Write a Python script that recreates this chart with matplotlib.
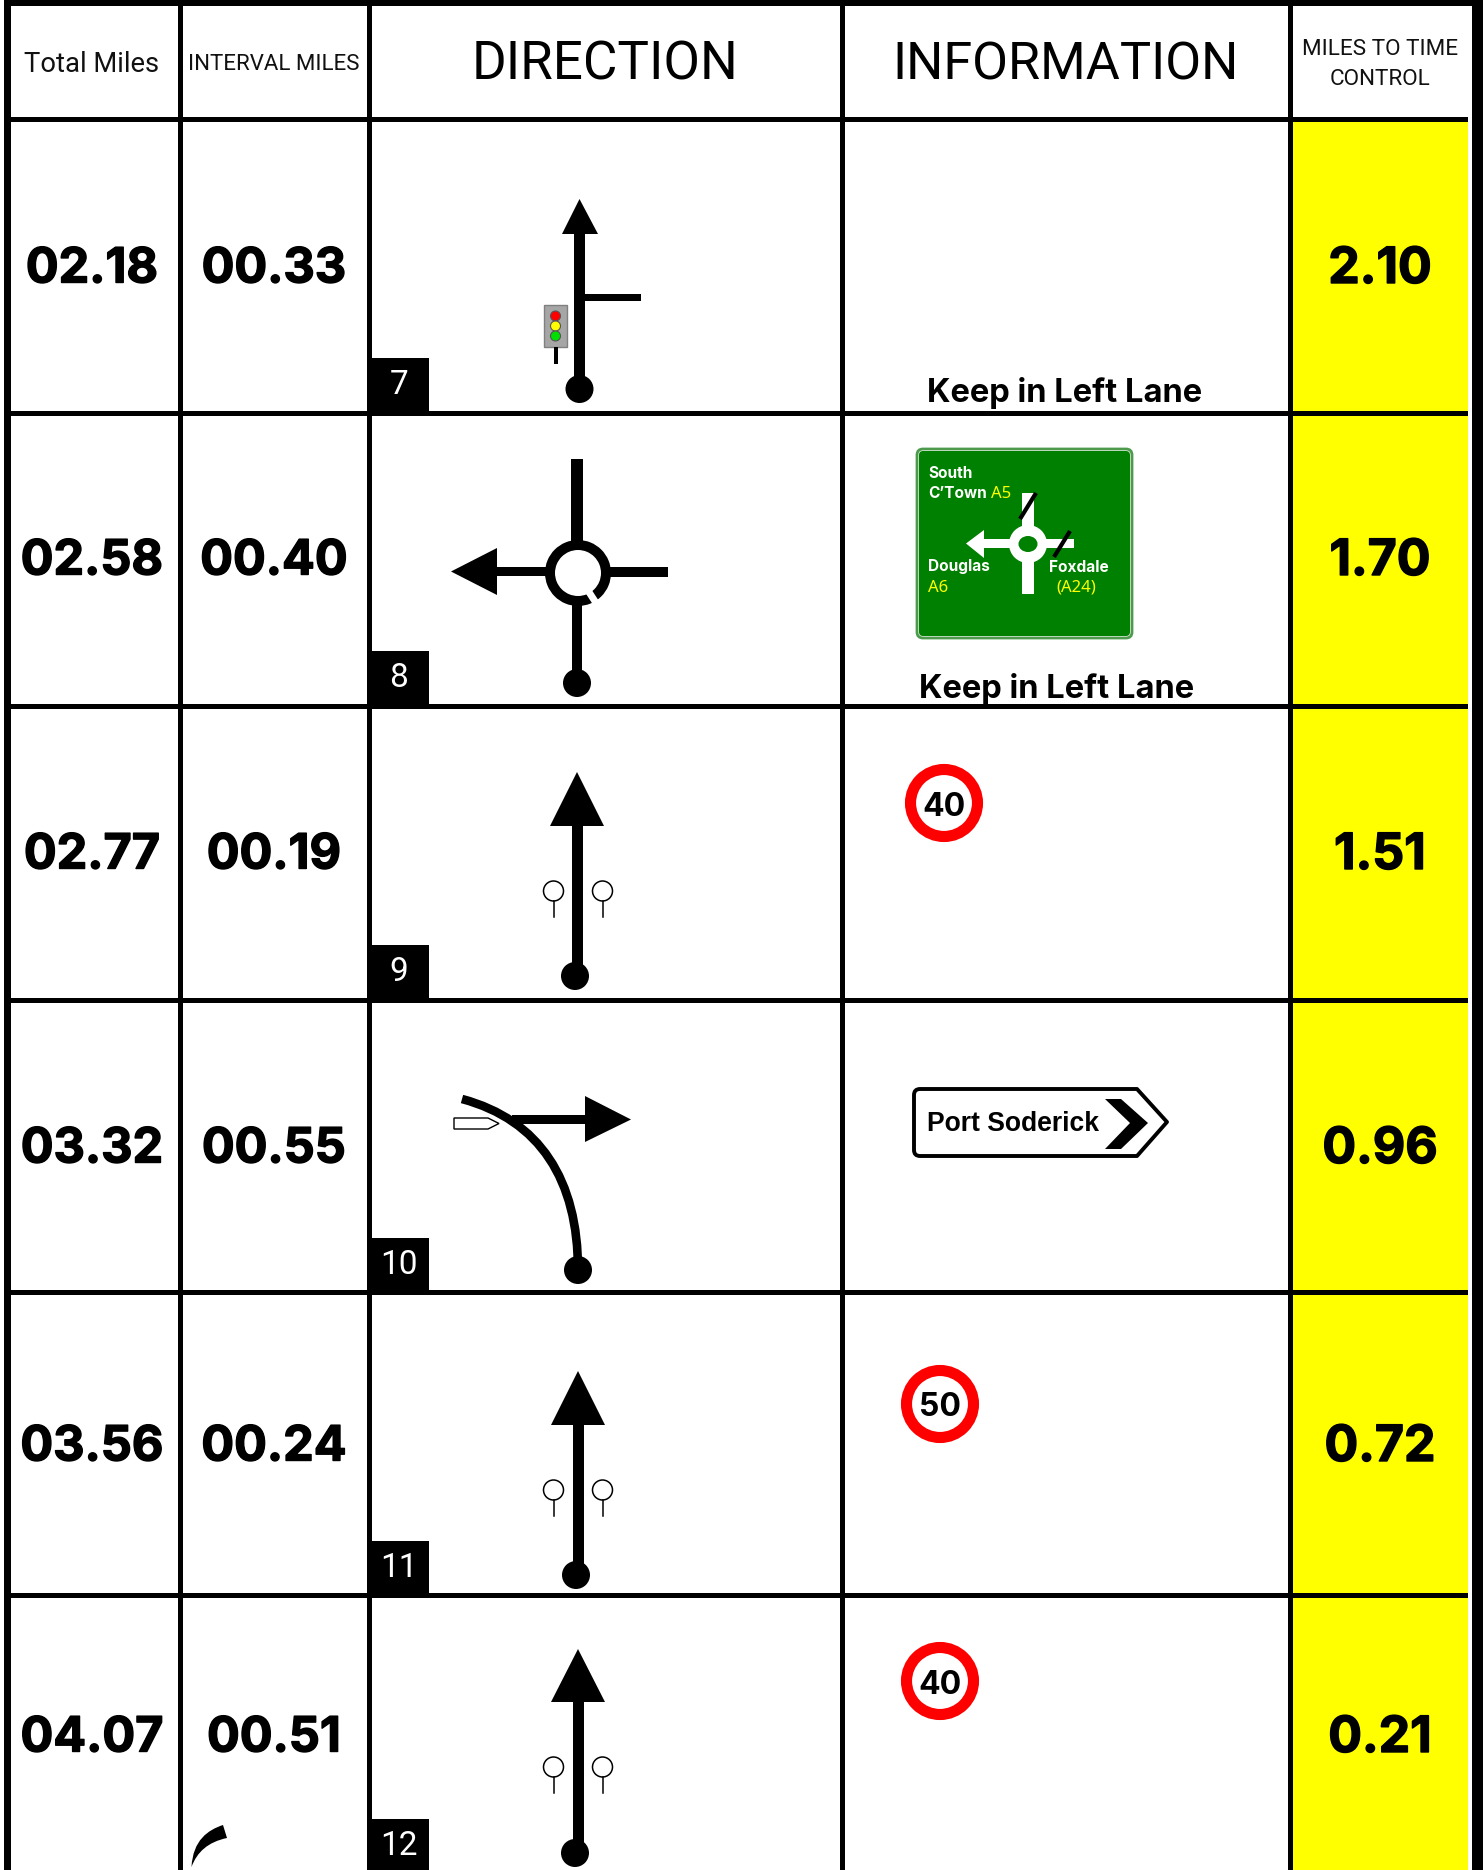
import matplotlib
matplotlib.use('Agg')
import matplotlib.pyplot as plt
import matplotlib.patheffects as pe
from matplotlib.patches import Rectangle, Circle, Ellipse, Polygon, PathPatch, FancyBboxPatch, Wedge
from matplotlib.path import Path

total_miles = ['02.18', '02.58', '02.77', '03.32', '03.56', '04.07']
interval_miles = ['00.33', '00.40', '00.19', '00.55', '00.24', '00.51']
to_control = ['2.10', '1.70', '1.51', '0.96', '0.72', '0.21']
step_no = ['7', '8', '9', '10', '11', '12']
headers = ['Total Miles', 'INTERVAL MILES', 'DIRECTION', 'INFORMATION']

row_y = [265, 557, 851, 1145, 1443, 1734]
row_lines = [119.5, 413.5, 706.5, 1000.5, 1292.5, 1595.5]
col_lines = [180.5, 369.5, 842.5, 1290.5]
box_top = [358, 651, 945, 1238, 1541, 1819]
box_bottom = [416, 709, 1003, 1295, 1598, 1870]
num_y = [382, 675, 969, 1262, 1565, 1843]

# straight-on arrows: row, shaft x, tip y, base y, half head, dot x, dot y, lollipop y
straight_rows = [(2, 577, 772, 826, 27, 575, 976, 891),
                 (4, 578, 1371, 1425, 27, 576, 1575, 1490),
                 (5, 578, 1649, 1702, 27, 575, 1853, 1767)]
speed_signs = [('40', 944, 803), ('50', 940, 1404), ('40', 940, 1681)]

FONT = 'Inter'
LIGHT = 'Roboto'
heavy = [pe.withStroke(linewidth=1.0, foreground='black')]

fig = plt.figure(figsize=(14.83, 18.70), dpi=100)
ax = fig.add_axes([0, 0, 1, 1])
ax.set_xlim(0, 1483)
ax.set_ylim(1870, 0)
ax.axis('off')


def rect(x0, y0, x1, y1, color='black', z=2):
    ax.add_patch(Rectangle((x0, y0), x1 - x0, y1 - y0, fc=color, ec='none', zorder=z))


def dot(x, y, r=14):
    ax.add_patch(Circle((x, y), r, fc='black', ec='none', zorder=4))


def lollipop(x, y):
    ax.add_patch(Circle((x, y), 10, fc='white', ec='black', lw=1.1, zorder=4))
    ax.plot([x, x], [y + 10, y + 26], color='black', lw=1.1, zorder=4)


# table
rect(1293, 122, 1467.5, 1870, '#ffff00', 1)
rect(4, 0, 10.5, 1870)
rect(4, 0, 1483, 5.5)
rect(1472, 0, 1483, 1870)
for x in col_lines:
    rect(x - 2.7, 0, x + 2.7, 1870)
for y in row_lines:
    rect(4, y - 2.7, 1467.5, y + 2.7)

# header text
ax.text(92, 65, headers[0], ha='center', va='center', family=LIGHT, fontsize=19.7, color='#111111')
ax.text(274, 64, headers[1], ha='center', va='center', family=LIGHT, fontsize=16, color='#111111')
ax.text(605, 65, headers[2], ha='center', va='center', family=LIGHT, fontsize=38.2, color='black')
ax.text(1066, 65, headers[3], ha='center', va='center', family=LIGHT, fontsize=37.6, color='black')
ax.text(1380, 49.5, 'MILES TO TIME', ha='center', va='center', family=LIGHT, fontsize=16.2, color='#111111')
ax.text(1380, 79.5, 'CONTROL', ha='center', va='center', family=LIGHT, fontsize=16.2, color='#111111')

# rows
for i in range(6):
    y = row_y[i] + 4.5
    ax.text(92, y, total_miles[i], ha='center', va='center', family=FONT, weight='bold', fontsize=35, path_effects=heavy)
    ax.text(274, y, interval_miles[i], ha='center', va='center', family=FONT, weight='bold', fontsize=35, path_effects=heavy)
    ax.text(1380, y, to_control[i], ha='center', va='center', family=FONT, weight='bold', fontsize=36, path_effects=heavy)
    rect(367, box_top[i], 429, box_bottom[i], 'black', 3)
    ax.text(399, num_y[i] + 3, step_no[i], ha='center', va='center', family=LIGHT, color='white', fontsize=24, zorder=5)

# step 7
rect(574, 230, 585, 389, 'black', 4)
ax.add_patch(Polygon([(579.5, 199), (562, 234), (598, 234)], fc='black', ec='none', zorder=4))
rect(580, 294, 641, 301, 'black', 4)
dot(579.5, 389)
ax.add_patch(Rectangle((544, 305), 23, 42, fc='#a6a6a6', ec='#808080', lw=1, zorder=4))
for yy, cc in zip([316, 326, 336], ['#ff0000', '#ffff00', '#00e000']):
    ax.add_patch(Circle((555.5, yy), 5, fc=cc, ec='#555555', lw=0.8, zorder=5))
rect(554, 347, 558, 364, 'black', 4)

# step 8
rect(571, 459, 583, 545, 'black', 4)
rect(572, 600, 582, 683, 'black', 4)
rect(497, 567, 550, 576, 'black', 4)
rect(606, 567, 668, 577, 'black', 4)
ax.add_patch(Polygon([(451, 571.5), (497, 548), (497, 595)], fc='black', ec='none', zorder=4))
ax.add_patch(Wedge((578, 573), 33, 0, 360, width=10, fc='black', ec='none', zorder=5))
ax.plot([587, 598], [589, 606], color='white', lw=5, zorder=6, solid_capstyle='butt')
dot(577, 683)

# steps 9, 11, 12
for r, sx, tip, base, hw, dx, dy, ly in straight_rows:
    rect(sx - 5.5, base - 2, sx + 5.5, dy, 'black', 4)
    ax.add_patch(Polygon([(sx, tip), (sx - hw, base), (sx + hw, base)], fc='black', ec='none', zorder=4))
    dot(dx, dy)
    lollipop(553.5, ly)
    lollipop(602.5, ly)

# step 10
curve = Path([(578, 1270), (578, 1180), (540, 1120), (462, 1099)],
             [Path.MOVETO, Path.CURVE4, Path.CURVE4, Path.CURVE4])
ax.add_patch(PathPatch(curve, fc='none', ec='black', lw=6.2, capstyle='butt', zorder=4))
rect(512, 1115, 586, 1124, 'black', 4)
ax.add_patch(Polygon([(631, 1119.5), (585, 1096), (585, 1142)], fc='black', ec='none', zorder=4))
ax.add_patch(Polygon([(454, 1118), (488, 1118), (499, 1123.5), (488, 1129), (454, 1129)],
                     fc='white', ec='black', lw=1, zorder=3))
dot(578, 1270)

# stray mark, bottom of interval column
mark = Path([(191.5, 1867), (193, 1840), (208, 1830), (223, 1825), (227, 1838), (208, 1842), (197, 1852), (191.5, 1867)],
            [Path.MOVETO, Path.CURVE4, Path.CURVE4, Path.CURVE4, Path.LINETO, Path.CURVE4, Path.CURVE4, Path.CURVE4])
ax.add_patch(PathPatch(mark, fc='black', ec='none', zorder=4))

# keep left labels
ax.text(1065, 393, 'Keep in Left Lane', ha='center', va='center', family=FONT, weight='bold', fontsize=23.5)
ax.text(1057, 689, 'Keep in Left Lane', ha='center', va='center', family=FONT, weight='bold', fontsize=23.5)

# green direction sign
ax.add_patch(FancyBboxPatch((917, 449), 215, 189, boxstyle='round,pad=0,rounding_size=6', fc='white',
                            ec='#4d9a4d', lw=2, zorder=3))
ax.add_patch(FancyBboxPatch((919, 451), 211, 185, boxstyle='round,pad=0,rounding_size=4', fc='#008000',
                            ec='none', zorder=3))
rect(1022, 493, 1034, 594, 'white', 4)
rect(984, 539, 1028, 548, 'white', 4)
rect(1028, 539, 1074, 548, 'white', 4)
ax.add_patch(Polygon([(966, 543.5), (984, 530), (984, 558)], fc='white', ec='none', zorder=4))
ax.add_patch(Circle((1028, 544), 19, fc='white', ec='none', zorder=5))
ax.add_patch(Ellipse((1028, 544), 19, 16, fc='#008000', ec='none', zorder=6))
ax.plot([1020, 1036], [519, 493], color='black', lw=3, zorder=6, solid_capstyle='butt')
ax.plot([1054, 1070], [557, 531], color='black', lw=3, zorder=6, solid_capstyle='butt')
sign_bold = dict(family=FONT, weight='bold', fontsize=11.1, color='white', va='center', zorder=7)
sign_yellow = dict(family='Noto Sans', fontsize=12, color='#ffff00', va='center', zorder=7)
ax.text(928, 473, 'South', **sign_bold)
ax.text(928, 494, 'C\u2019Town', **sign_bold)
ax.text(991, 494, 'A5', **sign_yellow)
ax.text(928, 567, 'Douglas', **sign_bold)
ax.text(928, 588, 'A6', **sign_yellow)
ax.text(1049, 567, 'Foxdale', **sign_bold)
ax.text(1056, 588, '(A24)', **sign_yellow)

# speed signs
for label, sx, sy in speed_signs:
    ax.add_patch(Circle((sx, sy), 33.5, fc='white', ec='#ff0000', lw=8, zorder=4))
    ax.text(sx, sy + 4, label, ha='center', va='center', family=FONT, weight='bold', fontsize=23, zorder=5)

# Port Soderick sign
outline = Path([(920, 1089), (1137, 1089), (1167, 1122), (1137, 1156), (920, 1156),
                (914, 1156), (914, 1150), (914, 1095), (914, 1089), (920, 1089), (920, 1089)],
               [Path.MOVETO, Path.LINETO, Path.LINETO, Path.LINETO, Path.LINETO,
                Path.CURVE3, Path.CURVE3, Path.LINETO, Path.CURVE3, Path.CURVE3, Path.CLOSEPOLY])
ax.add_patch(PathPatch(outline, fc='white', ec='black', lw=2.8, zorder=3, joinstyle='round'))
ax.add_patch(Polygon([(1105, 1099), (1121, 1099), (1148, 1123), (1121, 1149), (1105, 1149), (1130, 1123)],
                     fc='black', ec='none', zorder=4))
ax.text(927, 1124, 'Port Soderick', ha='left', va='center', family='Liberation Sans', weight='bold', fontsize=19.1, zorder=5)

fig.savefig('out.png', dpi=100)
